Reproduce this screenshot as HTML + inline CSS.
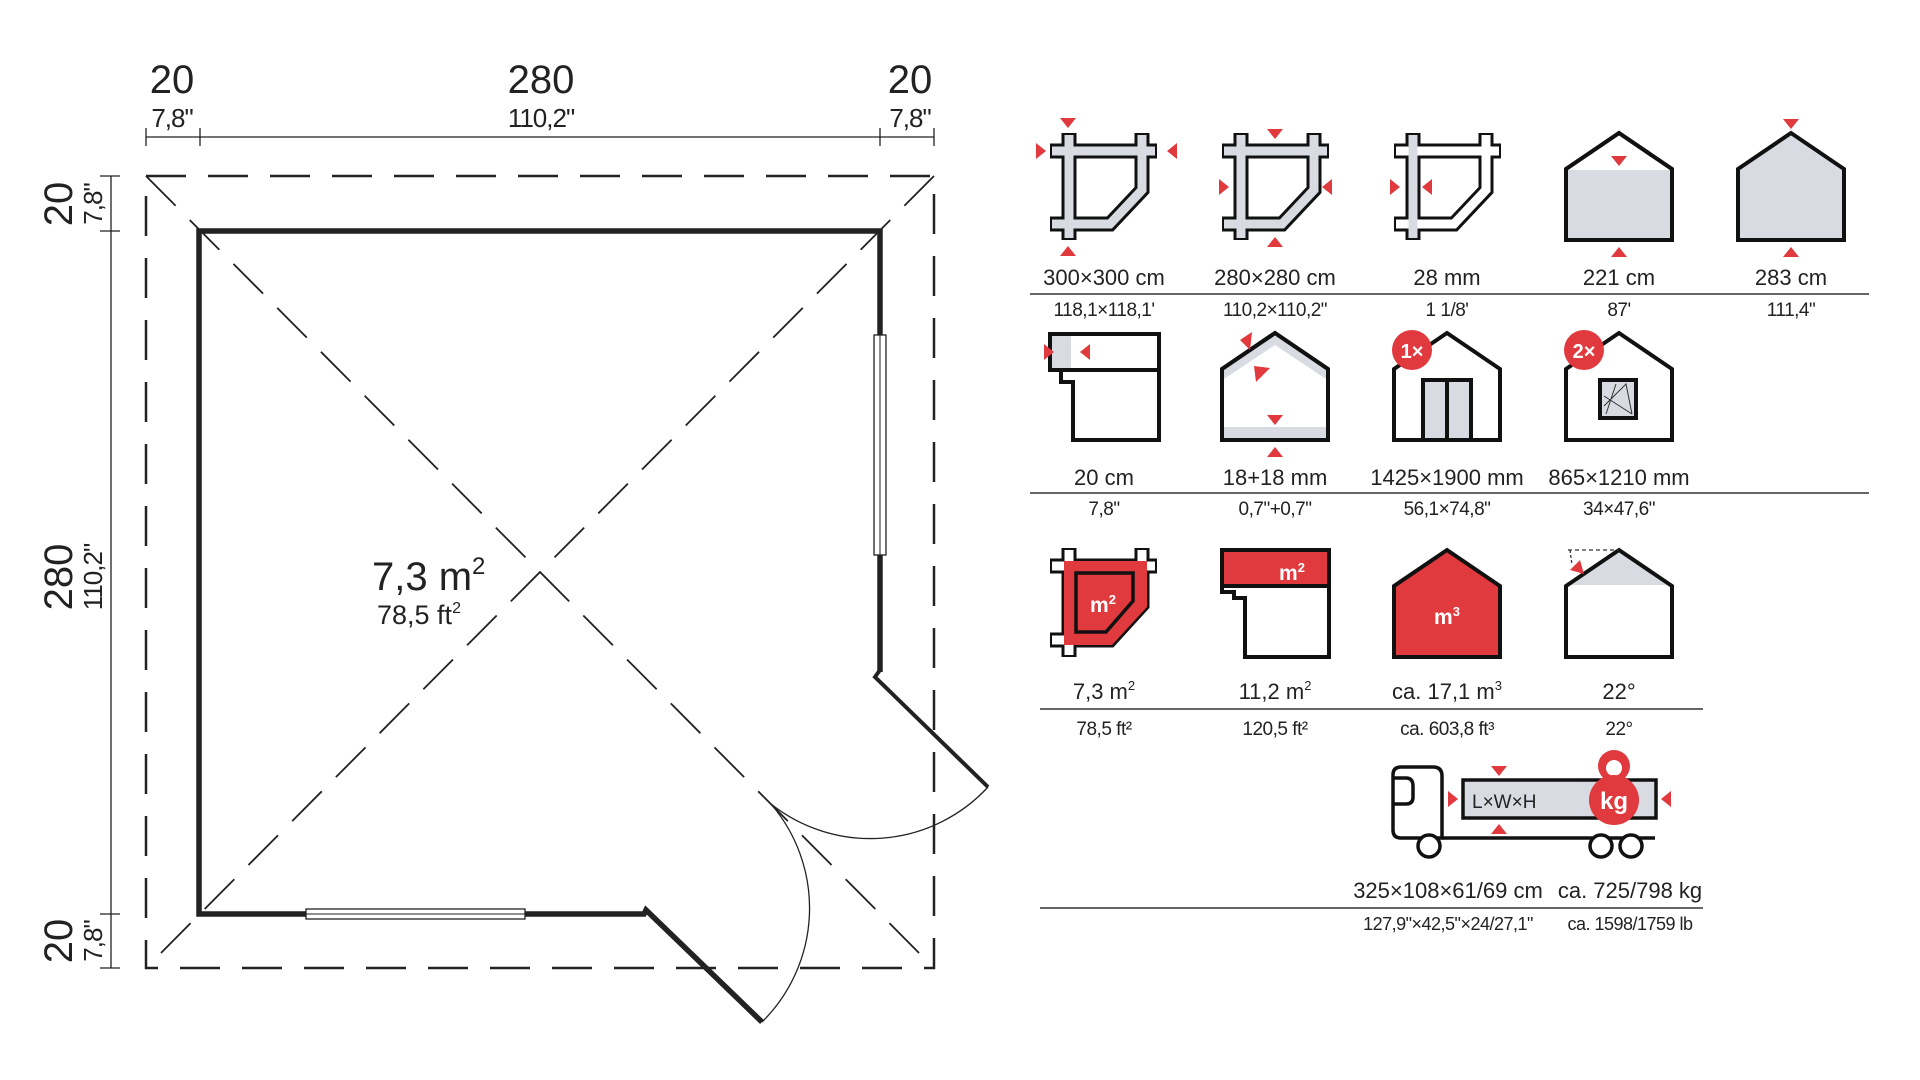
<!DOCTYPE html>
<html><head><meta charset="utf-8"><style>
html,body{margin:0;padding:0;background:#fff;}
svg{display:block;}
text{font-family:"Liberation Sans",sans-serif;fill:#222;}
</style></head><body>
<svg width="1920" height="1080" viewBox="0 0 1920 1080" xmlns="http://www.w3.org/2000/svg">
<defs>
<g id="tri"><polygon points="-8,-5 8,-5 0,5" fill="#e0393e"/></g>
</defs>
<!-- ===== PLAN ===== -->
<g stroke="#222" fill="none">
 <line x1="146" y1="137" x2="934" y2="137" stroke-width="1.3"/>
 <line x1="146" y1="128" x2="146" y2="146" stroke-width="1.3"/>
 <line x1="200" y1="128" x2="200" y2="146" stroke-width="1.3"/>
 <line x1="880" y1="128" x2="880" y2="146" stroke-width="1.3"/>
 <line x1="934" y1="128" x2="934" y2="146" stroke-width="1.3"/>
 <line x1="111" y1="176" x2="111" y2="968" stroke-width="1.3"/>
 <line x1="100" y1="176" x2="120" y2="176" stroke-width="1.3"/>
 <line x1="100" y1="231" x2="120" y2="231" stroke-width="1.3"/>
 <line x1="100" y1="914" x2="120" y2="914" stroke-width="1.3"/>
 <line x1="100" y1="968" x2="120" y2="968" stroke-width="1.3"/>
 <rect x="146" y="176" width="788" height="792" stroke-width="2.5" stroke-dasharray="40,22"/>
 <line x1="146" y1="176" x2="934" y2="968" stroke-width="1.8" stroke-dasharray="42,20"/>
 <line x1="934" y1="176" x2="146" y2="968" stroke-width="1.8" stroke-dasharray="42,20"/>
 <polyline points="880,672 880,231 199,231 199,914 644,914 646,910 762,1022" stroke-width="5.5" stroke-linejoin="miter"/>
 <polyline points="880,670 875,677 988,787" stroke-width="4"/>
 <rect x="306" y="909" width="219" height="10" fill="#fff" stroke-width="1.3"/>
 <line x1="306" y1="914" x2="525" y2="914" stroke-width="1"/>
 <rect x="874" y="335" width="12" height="220" fill="#fff" stroke-width="1.3"/>
 <line x1="880" y1="335" x2="880" y2="555" stroke-width="1"/>
 <path d="M988,787 A160,160 0 0 1 771,804" stroke-width="1.3"/>
 <path d="M762,1022 A160,160 0 0 0 771,804" stroke-width="1.3"/>
</g>
<g font-size="40" text-anchor="middle">
 <text x="172" y="93">20</text><text x="541" y="93">280</text><text x="910" y="93">20</text>
</g>
<g font-size="26" text-anchor="middle" letter-spacing="-1">
 <text x="172" y="127">7,8"</text><text x="541" y="127">110,2"</text><text x="910" y="127">7,8"</text>
</g>
<g font-size="40" text-anchor="middle">
 <text transform="translate(72,204) rotate(-90)">20</text>
 <text transform="translate(72,577) rotate(-90)">280</text>
 <text transform="translate(72,941) rotate(-90)">20</text>
</g>
<g font-size="26" text-anchor="middle" letter-spacing="-1">
 <text transform="translate(102,204) rotate(-90)">7,8"</text>
 <text transform="translate(102,577) rotate(-90)">110,2"</text>
 <text transform="translate(102,941) rotate(-90)">7,8"</text>
</g>
<text x="372" y="590" font-size="40">7,3 m<tspan font-size="24" dy="-16">2</tspan></text>
<text x="377" y="624" font-size="27">78,5 ft<tspan font-size="16" dy="-11">2</tspan></text>

<!-- ===== ICON ROW 1 ===== -->
<g stroke-linejoin="miter" fill="none">
 <g stroke="#111" stroke-width="15">
  <path d="M1050,151 H1157"/><path d="M1069,133 V240"/><path d="M1142,133 V190 L1110,224 H1050"/>
 </g>
 <g stroke="#d8dbe1" stroke-width="9">
  <path d="M1052,151 H1155"/><path d="M1069,135 V238"/><path d="M1142,135 V190 L1110,224 H1052"/>
 </g>
 <g stroke="#111" stroke-width="15">
  <path d="M1222,151 H1329"/><path d="M1241,133 V240"/><path d="M1314,133 V190 L1282,224 H1222"/>
 </g>
 <g stroke="#d8dbe1" stroke-width="9">
  <path d="M1224,151 H1327"/><path d="M1241,135 V238"/><path d="M1314,135 V190 L1282,224 H1224"/>
 </g>
 <g stroke="#111" stroke-width="15">
  <path d="M1394,151 H1501"/><path d="M1413,133 V240"/><path d="M1486,133 V190 L1454,224 H1394"/>
 </g>
 <g stroke="#fff" stroke-width="9">
  <path d="M1396,151 H1499"/><path d="M1486,135 V190 L1454,224 H1396"/>
 </g>
 <path d="M1413,135 V238" stroke="#d8dbe1" stroke-width="9"/>
</g>
<polygon points="1566,169 1619,133 1672,169 1672,240 1566,240" fill="#fff" stroke="#111" stroke-width="4"/>
<rect x="1568" y="170" width="102" height="68" fill="#d8dbe1"/>
<polygon points="1566,169 1619,133 1672,169 1672,240 1566,240" fill="none" stroke="#111" stroke-width="4"/>
<polygon points="1738,169 1791,133 1844,169 1844,240 1738,240" fill="#d8dbe1" stroke="#111" stroke-width="4"/>
<use href="#tri" transform="translate(1068,123)"/>
<use href="#tri" transform="translate(1068,251) rotate(180)"/>
<use href="#tri" transform="translate(1041,151) rotate(-90)"/>
<use href="#tri" transform="translate(1172,151) rotate(90)"/>
<use href="#tri" transform="translate(1275,134)"/>
<use href="#tri" transform="translate(1275,242) rotate(180)"/>
<use href="#tri" transform="translate(1224,187) rotate(-90)"/>
<use href="#tri" transform="translate(1327,187) rotate(90)"/>
<use href="#tri" transform="translate(1395,187) rotate(-90)"/>
<use href="#tri" transform="translate(1427,187) rotate(90)"/>
<use href="#tri" transform="translate(1619,161)"/>
<use href="#tri" transform="translate(1619,252) rotate(180)"/>
<use href="#tri" transform="translate(1791,124)"/>
<use href="#tri" transform="translate(1791,252) rotate(180)"/>
<g text-anchor="middle" font-size="22">
 <text x="1104" y="285">300×300 cm</text><text x="1275" y="285">280×280 cm</text><text x="1447" y="285">28 mm</text><text x="1619" y="285">221 cm</text><text x="1791" y="285">283 cm</text>
</g>
<line x1="1030" y1="294" x2="1869" y2="294" stroke="#333" stroke-width="1.5"/>
<g text-anchor="middle" font-size="19" letter-spacing="-0.5">
 <text x="1104" y="316">118,1×118,1'</text><text x="1275" y="316">110,2×110,2"</text><text x="1447" y="316">1 1/8'</text><text x="1619" y="316">87'</text><text x="1791" y="316">111,4"</text>
</g>

<!-- ===== ICON ROW 2 ===== -->
<path d="M1050,334 H1159 V440 H1073 V382 H1061 V370 H1050 Z" fill="#fff" stroke="#111" stroke-width="4"/>
<rect x="1052" y="336" width="19" height="32" fill="#d8dbe1"/>
<line x1="1050" y1="370" x2="1159" y2="370" stroke="#111" stroke-width="4"/>
<use href="#tri" transform="translate(1049,352) rotate(-90)"/>
<use href="#tri" transform="translate(1085,352) rotate(90)"/>
<polygon points="1222,369 1275,333 1328,369 1328,440 1222,440" fill="#d8dbe1" stroke="#111" stroke-width="4"/>
<polygon points="1224,379 1275,345 1326,379 1326,427 1224,427" fill="#fff"/>
<polygon points="1222,369 1275,333 1328,369 1328,440 1222,440" fill="none" stroke="#111" stroke-width="4"/>
<polygon points="1240,340 1252,332 1250,350" fill="#e0393e"/>
<polygon points="1254,366 1270,368 1256,382" fill="#e0393e"/>
<use href="#tri" transform="translate(1275,420)"/>
<use href="#tri" transform="translate(1275,452) rotate(180)"/>
<polygon points="1394,369 1447,333 1500,369 1500,440 1394,440" fill="#fff" stroke="#111" stroke-width="4"/>
<rect x="1423" y="380" width="48" height="60" fill="#d8dbe1" stroke="#111" stroke-width="4"/>
<line x1="1447" y1="380" x2="1447" y2="440" stroke="#111" stroke-width="4"/>
<circle cx="1412" cy="350" r="20" fill="#e0393e"/>
<text x="1412" y="358" font-size="20" font-weight="bold" text-anchor="middle" style="fill:#fff">1×</text>
<polygon points="1566,369 1619,333 1672,369 1672,440 1566,440" fill="#fff" stroke="#111" stroke-width="4"/>
<rect x="1600" y="380" width="36" height="38" fill="#d8dbe1" stroke="#111" stroke-width="4"/>
<path d="M1604,406 L1626,384 L1632,414 M1604,396 L1632,414 M1616,384 L1606,414" stroke="#333" stroke-width="1" fill="none"/>
<circle cx="1584" cy="350" r="20" fill="#e0393e"/>
<text x="1584" y="358" font-size="20" font-weight="bold" text-anchor="middle" style="fill:#fff">2×</text>
<g text-anchor="middle" font-size="22">
 <text x="1104" y="485">20 cm</text><text x="1275" y="485">18+18 mm</text><text x="1447" y="485">1425×1900 mm</text><text x="1619" y="485">865×1210 mm</text>
</g>
<line x1="1030" y1="493" x2="1869" y2="493" stroke="#333" stroke-width="1.5"/>
<g text-anchor="middle" font-size="19" letter-spacing="-0.5">
 <text x="1104" y="515">7,8"</text><text x="1275" y="515">0,7"+0,7"</text><text x="1447" y="515">56,1×74,8"</text><text x="1619" y="515">34×47,6"</text>
</g>

<!-- ===== ICON ROW 3 ===== -->
<g fill="none">
 <g stroke="#111" stroke-width="15">
  <path d="M1050,566 H1157"/><path d="M1069,548 V657"/><path d="M1142,548 V605 L1110,640 H1050"/>
 </g>
 <g stroke="#fff" stroke-width="9">
  <path d="M1052,566 H1155"/><path d="M1069,550 V655"/><path d="M1142,550 V605 L1110,640 H1052"/>
 </g>
</g>
<path d="M1064,561 H1147 V607 L1112,645 H1064 Z" fill="#e0393e"/>
<path d="M1076,573 H1133 V601 L1106,632 H1076 Z" fill="#e0393e" stroke="#111" stroke-width="3.5"/>
<text x="1103" y="612" font-size="21" font-weight="bold" text-anchor="middle" style="fill:#fff">m<tspan font-size="13" dy="-8">2</tspan></text>
<path d="M1222,586 V592 H1234 V598 H1245 V657 H1329 V586 Z" fill="#fff" stroke="#111" stroke-width="4"/>
<rect x="1222" y="550" width="107" height="36" fill="#e0393e" stroke="#111" stroke-width="4"/>
<text x="1292" y="580" font-size="21" font-weight="bold" text-anchor="middle" style="fill:#fff">m<tspan font-size="13" dy="-8">2</tspan></text>
<polygon points="1394,586 1447,550 1500,586 1500,657 1394,657" fill="#e0393e" stroke="#111" stroke-width="4"/>
<text x="1447" y="624" font-size="21" font-weight="bold" text-anchor="middle" style="fill:#fff">m<tspan font-size="13" dy="-8">3</tspan></text>
<polygon points="1566,586 1619,550 1672,586 1672,657 1566,657" fill="#fff"/>
<polygon points="1568,585 1619,552 1670,585" fill="#d8dbe1"/>
<polygon points="1566,586 1619,550 1672,586 1672,657 1566,657" fill="none" stroke="#111" stroke-width="4"/>
<line x1="1568" y1="550" x2="1619" y2="550" stroke="#333" stroke-width="1.3" stroke-dasharray="4,3"/>
<line x1="1570" y1="550" x2="1572" y2="565" stroke="#333" stroke-width="1.3" stroke-dasharray="3,2"/>
<polygon points="1580,560 1584,574 1570,570" fill="#e0393e"/>
<g text-anchor="middle" font-size="22">
 <text x="1104" y="699">7,3 m<tspan font-size="13" dy="-9">2</tspan></text>
 <text x="1275" y="699">11,2 m<tspan font-size="13" dy="-9">2</tspan></text>
 <text x="1447" y="699">ca. 17,1 m<tspan font-size="13" dy="-9">3</tspan></text>
 <text x="1619" y="699">22°</text>
</g>
<line x1="1040" y1="709" x2="1703" y2="709" stroke="#333" stroke-width="1.5"/>
<g text-anchor="middle" font-size="19" letter-spacing="-0.5">
 <text x="1104" y="735">78,5 ft²</text><text x="1275" y="735">120,5 ft²</text><text x="1447" y="735">ca. 603,8 ft³</text><text x="1619" y="735">22°</text>
</g>

<!-- ===== TRUCK ===== -->
<g stroke="#111" stroke-width="3.5" fill="none">
 <path d="M1442,838 V776 Q1442,767 1433,767 H1401 Q1393,767 1393,775 V830 Q1393,838 1401,838 Z" fill="#fff"/>
 <path d="M1393,778 H1406 Q1413,778 1413,786 V797 Q1413,804 1406,804 H1393"/>
 <line x1="1442" y1="838" x2="1655" y2="838"/>
 <rect x="1463" y="780" width="193" height="38" fill="#d8dbe1"/>
 <circle cx="1429" cy="846" r="11" fill="#fff"/>
 <circle cx="1601" cy="846" r="11" fill="#fff"/>
 <circle cx="1631" cy="846" r="11" fill="#fff"/>
</g>
<text x="1472" y="808" font-size="19">L×W×H</text>
<circle cx="1614" cy="766" r="16" fill="#e0393e"/>
<circle cx="1614" cy="768" r="8" fill="#fff"/>
<circle cx="1614" cy="800" r="25" fill="#e0393e"/>
<text x="1614" y="809" font-size="24" font-weight="bold" text-anchor="middle" style="fill:#fff">kg</text>
<use href="#tri" transform="translate(1499,771)"/>
<use href="#tri" transform="translate(1499,829) rotate(180)"/>
<use href="#tri" transform="translate(1453,799) rotate(-90)"/>
<use href="#tri" transform="translate(1666,799) rotate(90)"/>
<g text-anchor="middle" font-size="22">
 <text x="1448" y="898">325×108×61/69 cm</text><text x="1630" y="898">ca. 725/798 kg</text>
</g>
<line x1="1040" y1="908" x2="1703" y2="908" stroke="#333" stroke-width="1.5"/>
<g text-anchor="middle" font-size="18" letter-spacing="-0.5">
 <text x="1448" y="930">127,9"×42,5"×24/27,1"</text><text x="1630" y="930">ca. 1598/1759 lb</text>
</g>
</svg>
</body></html>
